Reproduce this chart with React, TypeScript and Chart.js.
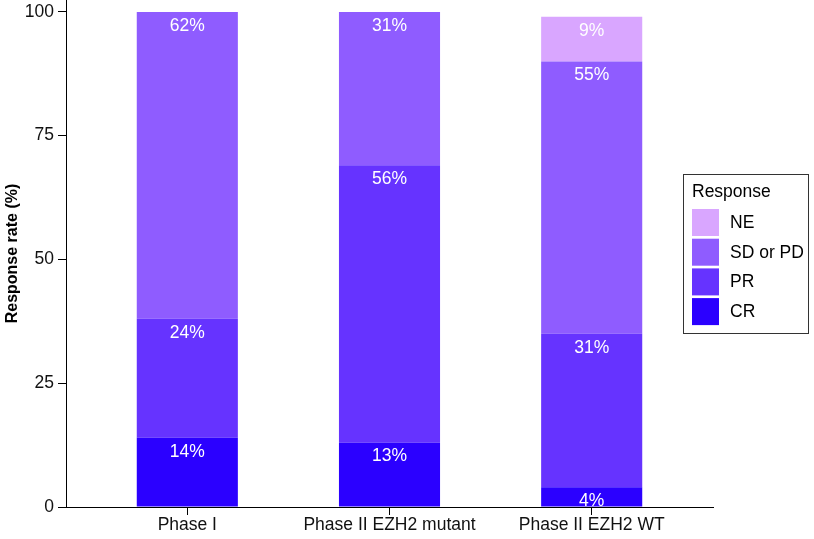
import React, { useEffect, useRef } from "react";
import { Chart, registerables } from "chart.js";

Chart.register(...registerables);

const categories = ["Phase I", "Phase II EZH2 mutant", "Phase II EZH2 WT"];
const crValues = [14, 13, 4];
const prValues = [24, 56, 31];
const sdValues = [62, 31, 55];
const neValues = [0, 0, 9];
const yTicks = [0, 25, 50, 75, 100];
const seriesNames = ["CR", "PR", "SD or PD", "NE"];
const seriesColors = ["#2B00FF", "#6633FF", "#8F5CFF", "#D9A6FF"];

const FONT = "'Liberation Sans', Arial, sans-serif";
const FS = 17.5;

const labelPlugin = {
  id: "segLabels",
  afterDatasetsDraw(chart: any) {
    const ctx = chart.ctx;
    ctx.save();
    ctx.fillStyle = "#ffffff";
    ctx.font = `${FS}px ${FONT}`;
    ctx.textAlign = "center";
    ctx.textBaseline = "middle";
    chart.data.datasets.forEach((ds: any, di: number) => {
      const meta = chart.getDatasetMeta(di);
      meta.data.forEach((el: any, i: number) => {
        const v = ds.data[i].y;
        if (!v) return;
        ctx.fillText(`${v}%`, el.x, el.y + 14);
      });
    });
    ctx.restore();
  },
};

const legendPlugin = {
  id: "boxLegend",
  afterDraw(chart: any) {
    const ctx = chart.ctx;
    const x0 = 683, y0 = 174, w = 125, h = 159;
    ctx.save();
    ctx.strokeStyle = "#333333";
    ctx.lineWidth = 1;
    ctx.strokeRect(x0 + 0.5, y0 + 0.5, w, h);
    ctx.fillStyle = "#000";
    ctx.font = `${FS}px ${FONT}`;
    ctx.textAlign = "left";
    ctx.textBaseline = "middle";
    ctx.fillText("Response", 692, 192);
    const ds = chart.data.datasets.slice().reverse();
    ds.forEach((d: any, i: number) => {
      const top = 209 + i * 29.7;
      ctx.fillStyle = d.backgroundColor;
      ctx.fillRect(692, top, 27, 27);
      ctx.fillStyle = "#000";
      ctx.fillText(d.label, 730, top + 14);
    });
    ctx.restore();
  },
};

export default function App() {
  const ref = useRef<HTMLCanvasElement>(null);
  useEffect(() => {
    if (!ref.current) return;
    const series = [crValues, prValues, sdValues, neValues];
    const chart = new Chart(ref.current, {
      type: "bar",
      data: {
        datasets: series.map((vals, si) => ({
          label: seriesNames[si],
          data: vals.map((v, i) => ({ x: i + 1, y: v })),
          backgroundColor: seriesColors[si],
          borderWidth: 0,
          categoryPercentage: 1,
          barPercentage: 0.5,
        })),
      },
      options: {
        animation: false,
        responsive: false,
        maintainAspectRatio: false,
        layout: { padding: { top: 0, right: 101, left: 0, bottom: 0 } },
        plugins: { legend: { display: false }, tooltip: { enabled: false } },
        scales: {
          x: {
            type: "linear",
            stacked: true,
            offset: false,
            min: 0.4,
            max: 3.6,
            afterBuildTicks: (s: any) => {
              s.ticks = categories.map((_, i) => ({ value: i + 1 }));
            },
            afterFit: (s: any) => {
              s.height = 32;
              s.paddingLeft = 0;
              s.paddingRight = 0;
            },
            ticks: {
              callback: (v: any) => categories[Number(v) - 1] ?? "",
              color: "#111",
              font: { family: FONT, size: FS },
              padding: 0,
              maxRotation: 0,
              autoSkip: false,
            },
            grid: { offset: false, drawOnChartArea: false, drawTicks: true, tickLength: 8, color: "#000" },
            border: { display: true, color: "#000", width: 1 },
          },
          y: {
            type: "linear",
            stacked: true,
            min: 0,
            max: 102.4,
            afterBuildTicks: (s: any) => {
              s.ticks = yTicks.map((v) => ({ value: v }));
            },
            afterFit: (s: any) => {
              s.width = 66;
              s.paddingTop = 0;
              s.paddingBottom = 0;
            },
            ticks: {
              color: "#111",
              font: { family: FONT, size: FS },
              padding: 4,
            },
            grid: { drawOnChartArea: false, drawTicks: true, tickLength: 8, color: "#000" },
            border: { display: true, color: "#000", width: 1 },
            title: {
              display: true,
              text: "Response rate (%)",
              color: "#000",
              font: { family: FONT, size: 16, weight: "bold" },
              padding: { top: 3, bottom: 0 },
            },
          },
        },
      },
      plugins: [labelPlugin, legendPlugin],
    });
    return () => chart.destroy();
  }, []);
  return (
    <div style={{ position: "fixed", left: 0, top: 0, width: 814, height: 539, background: "#fff" }}>
      <canvas ref={ref} width={814} height={539} />
    </div>
  );
}
